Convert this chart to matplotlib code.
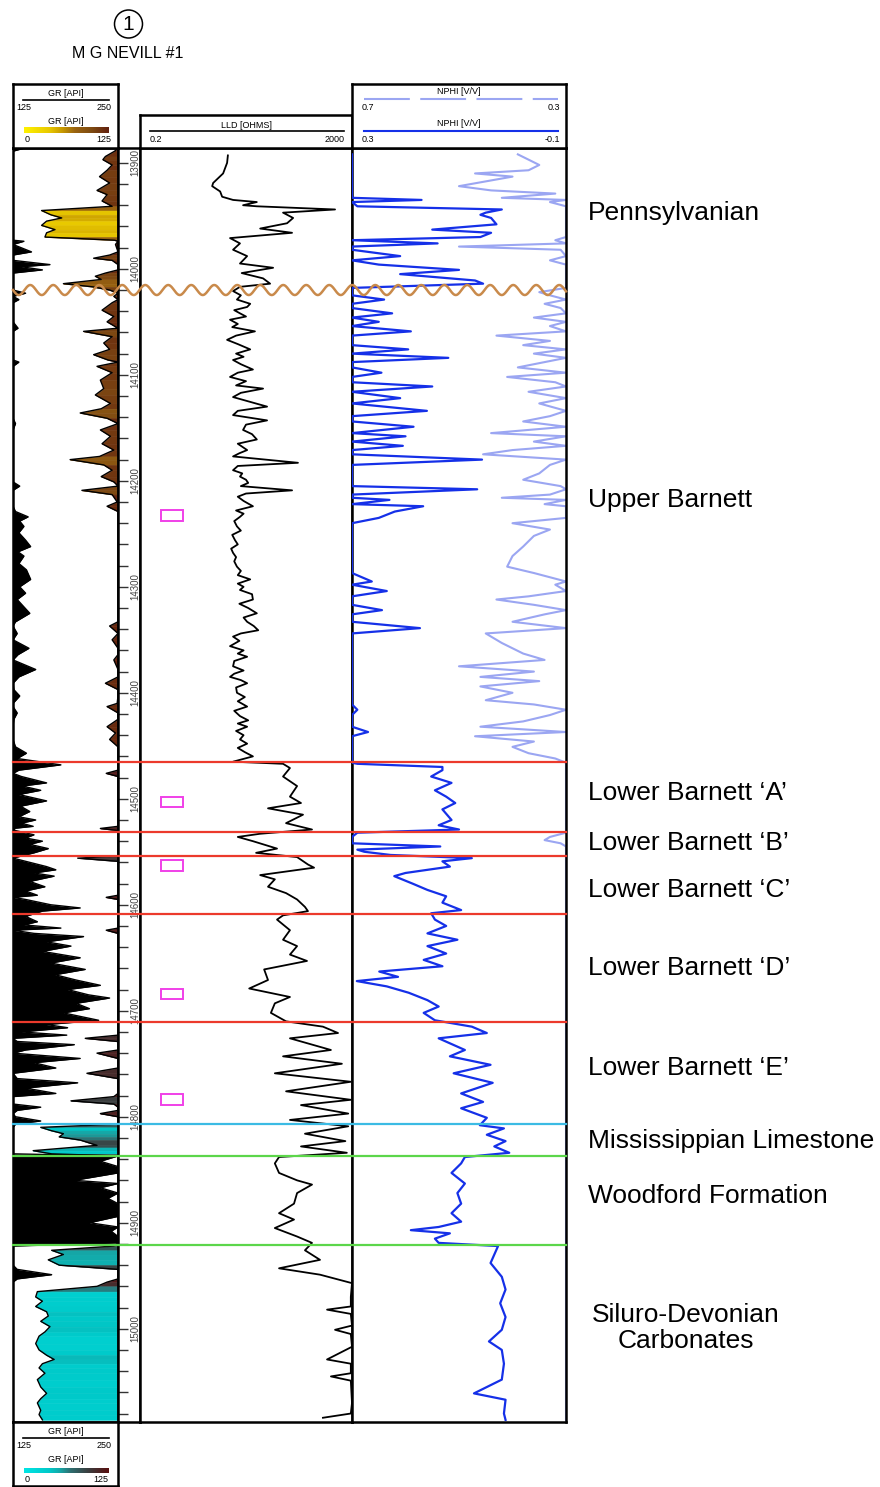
import numpy as np
import matplotlib
matplotlib.use('Agg')
import matplotlib.pyplot as plt
from matplotlib.colors import LinearSegmentedColormap
from matplotlib.patches import Rectangle, Circle
from matplotlib.transforms import blended_transform_factory

plt.rcParams['font.family'] = ['Liberation Sans', 'DejaVu Sans']

well_name = 'M G NEVILL #1'
well_no = '1'

# GR log (ft, API)
gr_depth = [13886, 13889, 13894, 13897, 13902, 13907, 13913, 13919, 13926, 13930,
            13936, 13941, 13945, 13949, 13952, 13955, 13959, 13963, 13966, 13970,
            13973, 13974, 13977, 13984, 13987, 13990, 13992, 13996, 13998, 14001,
            14004, 14007, 14010, 14014, 14017, 14020, 14023, 14026, 14029, 14032,
            14039, 14045, 14050, 14056, 14059, 14064, 14070, 14076, 14081, 14086,
            14088, 14092, 14098, 14105, 14113, 14119, 14127, 14132, 14136, 14141,
            14146, 14152, 14158, 14165, 14171, 14177, 14180, 14185, 14190, 14196,
            14201, 14205, 14209, 14213, 14220, 14224, 14229, 14234, 14238, 14243,
            14249, 14256, 14262, 14267, 14271, 14278, 14284, 14293, 14300, 14306,
            14312, 14319, 14325, 14333, 14337, 14344, 14350, 14358, 14364, 14369,
            14378, 14385, 14391, 14397, 14403, 14410, 14413, 14419, 14425, 14432,
            14438, 14444, 14451, 14457, 14462, 14468, 14473, 14476, 14479, 14485,
            14488, 14492, 14496, 14502, 14507, 14512, 14517, 14520, 14523, 14526,
            14528, 14530, 14534, 14537, 14540, 14543, 14547, 14551, 14554, 14556,
            14559, 14564, 14567, 14570, 14573, 14578, 14583, 14587, 14591, 14593,
            14595, 14600, 14603, 14606, 14611, 14616, 14619, 14622, 14624, 14627,
            14630, 14635, 14639, 14644, 14650, 14655, 14661, 14666, 14671, 14676,
            14680, 14685, 14688, 14693, 14698, 14702, 14709, 14713, 14716, 14720,
            14723, 14726, 14729, 14732, 14737, 14740, 14745, 14749, 14754, 14759,
            14764, 14768, 14773, 14778, 14781, 14785, 14788, 14791, 14794, 14797,
            14800, 14804, 14807, 14810, 14813, 14816, 14819, 14822, 14827, 14829,
            14832, 14835, 14837, 14842, 14847, 14853, 14860, 14863, 14867, 14872,
            14877, 14882, 14894, 14900, 14904, 14908, 14913, 14919, 14922, 14926,
            14930, 14935, 14940, 14944, 14949, 14953, 14956, 14960, 14965, 14970,
            14974, 14979, 14984, 14988, 14993, 14998, 15003, 15007, 15014, 15020,
            15025, 15029, 15033, 15037, 15042, 15048, 15055, 15061, 15066, 15070,
            15077, 15081, 15086]
gr_api = [139, 121, 110, 107, 118, 112, 103, 115, 100, 112,
          106, 118, 34, 45, 58, 40, 34, 50, 40, 38,
          121, 138, 122, 147, 115, 96, 118, 169, 135, 160,
          110, 98, 105, 60, 95, 115, 140, 120, 132, 118,
          106, 120, 112, 131, 84, 118, 108, 115, 96, 113,
          132, 100, 118, 104, 108, 98, 116, 105, 80, 112,
          128, 104, 116, 106, 120, 103, 68, 108, 118, 105,
          120, 133, 82, 118, 124, 112, 128, 143, 133, 138,
          132, 140, 146, 131, 138, 132, 141, 146, 133, 140,
          130, 138, 145, 128, 115, 130, 118, 144, 131, 120,
          152, 132, 110, 126, 133, 124, 112, 130, 126, 112,
          122, 115, 128, 141, 130, 182, 132, 111, 135, 165,
          136, 158, 132, 165, 134, 145, 132, 152, 135, 149,
          104, 128, 150, 140, 160, 145, 167, 150, 135, 77,
          140, 165, 176, 150, 174, 145, 163, 140, 154, 111,
          140, 170, 205, 160, 140, 154, 138, 182, 111, 150,
          209, 165, 194, 160, 205, 170, 211, 175, 200, 229,
          190, 215, 240, 200, 216, 185, 227, 165, 190, 135,
          189, 86, 130, 198, 140, 100, 205, 150, 176, 88,
          130, 202, 140, 176, 120, 69, 120, 158, 130, 104,
          128, 158, 128, 33, 45, 60, 55, 80, 100, 70,
          24, 46, 250, 229, 252, 250, 198, 252, 229, 252,
          238, 255, 255, 216, 252, 242, 255, 255, 120, 46,
          60, 42, 55, 130, 171, 130, 112, 100, 29, 27,
          35, 27, 40, 42, 33, 44, 38, 31, 27, 31,
          40, 49, 35, 31, 38, 29, 33, 40, 33, 29,
          33, 31, 35]

# LLD log (ft, ohm.m)
lld_depth = [13893, 13900, 13910, 13919, 13922, 13927, 13932, 13935, 13937, 13940,
             13941, 13944, 13947, 13952, 13957, 13962, 13966, 13971, 13976, 13982,
             13988, 13995, 13999, 14004, 14009, 14014, 14017, 14021, 14025, 14029,
             14033, 14036, 14039, 14042, 14045, 14048, 14052, 14055, 14059, 14063,
             14067, 14071, 14076, 14080, 14083, 14086, 14090, 14095, 14098, 14102,
             14106, 14110, 14113, 14117, 14121, 14125, 14130, 14134, 14138, 14143,
             14147, 14152, 14156, 14161, 14165, 14171, 14174, 14177, 14183, 14186,
             14190, 14193, 14196, 14199, 14202, 14205, 14209, 14212, 14215, 14219,
             14224, 14228, 14231, 14234, 14238, 14243, 14247, 14251, 14256, 14260,
             14264, 14268, 14272, 14276, 14281, 14285, 14289, 14293, 14297, 14300,
             14303, 14307, 14312, 14316, 14320, 14325, 14329, 14333, 14337, 14341,
             14344, 14347, 14351, 14356, 14360, 14363, 14366, 14370, 14375, 14379,
             14382, 14385, 14388, 14391, 14395, 14400, 14404, 14408, 14413, 14417,
             14422, 14426, 14429, 14432, 14436, 14440, 14444, 14448, 14452, 14456,
             14460, 14465, 14467, 14471, 14479, 14488, 14498, 14504, 14509, 14515,
             14523, 14529, 14533, 14536, 14540, 14547, 14551, 14555, 14562, 14565,
             14572, 14576, 14583, 14589, 14595, 14602, 14606, 14610, 14614, 14624,
             14633, 14639, 14647, 14653, 14661, 14671, 14679, 14687, 14693, 14702,
             14710, 14715, 14721, 14726, 14737, 14743, 14750, 14759, 14767, 14776,
             14784, 14789, 14797, 14803, 14809, 14816, 14823, 14828, 14834, 14838,
             14844, 14853, 14860, 14864, 14872, 14882, 14891, 14897, 14905, 14913,
             14919, 14926, 14935, 14943, 14949, 14957, 14970, 14979, 14982, 14986,
             14997, 15001, 15005, 15017, 15029, 15033, 15042, 15045, 15049, 15070,
             15080, 15084]
lld_ohm = [9.1, 8.8, 7.4, 4.8, 4.6, 6.5, 7.1, 11.4, 32, 17.6,
           32, 957, 100, 155, 119, 37, 148, 10, 15.4, 11.4,
           21, 15.4, 65, 16.6, 42, 57, 15.4, 11.4, 16, 13.5,
           24, 21, 12, 15.4, 20, 10, 14, 11, 29.5, 13,
           8.8, 14, 24, 13, 18, 11.4, 16, 27, 14, 10,
           20, 13, 42, 16, 11.4, 22, 50, 14, 11.4, 50,
           20, 17.6, 26, 32, 14, 21, 15, 11.4, 191, 14,
           11.4, 17, 15.4, 20, 22, 16, 148, 20, 14, 18,
           27, 13, 18, 15.4, 12, 13.5, 16, 11, 12.4, 14,
           10.5, 11.4, 13, 12, 13.5, 16, 14, 24, 14, 18,
           15.4, 26, 27, 15, 22, 32, 18, 21, 28, 34,
           16, 11.4, 15, 10, 18, 14, 21, 12, 11.4, 18,
           12, 10, 16, 21, 13, 13.5, 19, 14, 21, 12,
           15.4, 22, 14, 21, 13, 18, 15.4, 21, 14, 19,
           27, 11.4, 100, 135, 100, 184, 135, 218, 52, 238,
           114, 352, 37, 14, 27, 77, 31, 184, 295, 385,
           37, 70, 52, 114, 184, 259, 295, 100, 77, 135,
           100, 184, 135, 283, 44, 52, 23, 135, 70, 59,
           114, 566, 1090, 135, 800, 100, 1290, 70, 1900, 114,
           1900, 218, 1700, 135, 1700, 259, 1500, 218, 1600, 84,
           70, 84, 184, 352, 184, 161, 84, 161, 70, 184,
           352, 259, 498, 84, 498, 2000, 1900, 1900, 676, 1900,
           2000, 957, 1900, 2000, 676, 1900, 1900, 800, 1900, 2000,
           1900, 566]

# NPHI log (ft, v/v)
nphi_depth = [13892, 13897, 13902, 13907, 13910, 13913, 13918, 13922, 13926, 13929,
              13933, 13935, 13937, 13941, 13944, 13947, 13949, 13952, 13958, 13963,
              13966, 13970, 13973, 13976, 13979, 13982, 13988, 13992, 13996, 14001,
              14005, 14011, 14014, 14018, 14022, 14025, 14029, 14033, 14037, 14042,
              14046, 14050, 14054, 14059, 14063, 14068, 14072, 14076, 14080, 14084,
              14088, 14093, 14098, 14102, 14107, 14111, 14116, 14122, 14127, 14134,
              14139, 14144, 14149, 14155, 14158, 14163, 14167, 14171, 14175, 14180,
              14185, 14193, 14199, 14205, 14208, 14213, 14216, 14218, 14222, 14224,
              14229, 14235, 14240, 14246, 14252, 14262, 14271, 14281, 14287, 14295,
              14298, 14304, 14309, 14312, 14317, 14322, 14326, 14333, 14339, 14344,
              14353, 14363, 14369, 14375, 14380, 14385, 14389, 14394, 14400, 14407,
              14411, 14416, 14421, 14427, 14432, 14437, 14441, 14446, 14451, 14457,
              14462, 14466, 14467, 14470, 14473, 14479, 14485, 14492, 14498, 14504,
              14510, 14520, 14525, 14529, 14532, 14536, 14539, 14542, 14545, 14548,
              14550, 14553, 14556, 14559, 14564, 14570, 14573, 14580, 14586, 14592,
              14598, 14605, 14608, 14614, 14620, 14627, 14633, 14639, 14646, 14652,
              14658, 14663, 14668, 14672, 14677, 14683, 14690, 14696, 14702, 14709,
              14715, 14721, 14726, 14737, 14743, 14751, 14759, 14768, 14778, 14786,
              14792, 14801, 14808, 14811, 14817, 14823, 14828, 14834, 14838, 14844,
              14853, 14863, 14872, 14882, 14891, 14899, 14904, 14907, 14910, 14915,
              14919, 14922, 14938, 14951, 14963, 14976, 14989, 15001, 15012, 15020,
              15033, 15048, 15061, 15067, 15080, 15086]
nphi_vv = [0.39, 0.37, 0.35, 0.37, 0.47, 0.40, 0.455, 0.50, 0.44, 0.32,
           0.42, 0.17, 0.33, 0.29, 0.02, 0.05, 0.06, 0.04, 0.03, 0.15,
           0.04, 0.06, 0.32, 0.14, 0.50, 0.31, 0.21, 0.33, 0.25, 0.10,
           0.21, 0.07, 0.055, 0.30, 0.35, 0.33, 0.24, 0.34, 0.31, 0.225,
           0.36, 0.25, 0.33, 0.19, 0.43, 0.33, 0.38, 0.195, 0.36, 0.12,
           0.34, 0.39, 0.245, 0.41, 0.32, 0.15, 0.37, 0.21, 0.35, 0.16,
           0.33, 0.38, 0.185, 0.44, 0.20, 0.36, 0.205, 0.40, 0.455, 0.057,
           0.33, 0.35, 0.38, 0.31, 0.066, 0.33, 0.42, 0.23, 0.34, 0.167,
           0.22, 0.25, 0.40, 0.33, 0.36, 0.38, 0.40, 0.41, 0.36, 0.263,
           0.32, 0.235, 0.37, 0.43, 0.36, 0.244, 0.34, 0.40, 0.173, 0.45,
           0.42, 0.38, 0.34, 0.50, 0.36, 0.46, 0.35, 0.46, 0.40, 0.45,
           0.36, 0.29, 0.33, 0.38, 0.46, 0.27, 0.47, 0.36, 0.40, 0.37,
           0.32, 0.30, 0.29, 0.131, 0.131, 0.152, 0.114, 0.145, 0.124, 0.107,
           0.131, 0.114, 0.138, 0.10, 0.29, 0.33, 0.34, 0.31, 0.135, 0.29,
           0.277, 0.228, 0.076, 0.131, 0.117, 0.20, 0.221, 0.187, 0.159, 0.124,
           0.131, 0.096, 0.152, 0.145, 0.124, 0.159, 0.103, 0.159, 0.124, 0.166,
           0.131, 0.249, 0.214, 0.291, 0.235, 0.194, 0.159, 0.138, 0.166, 0.145,
           0.076, 0.048, 0.138, 0.089, 0.117, 0.041, 0.110, 0.037, 0.096, 0.055,
           0.096, 0.048, 0.061, 0.016, 0.048, 0.013, 0.034, 0.006, 0.089, 0.096,
           0.114, 0.089, 0.103, 0.096, 0.114, 0.096, 0.138, 0.19, 0.117, 0.145,
           0.138, 0.027, 0.041, 0.02, 0.013, 0.023, 0.013, 0.02, 0.044, 0.02,
           0.016, 0.02, 0.072, 0.013, 0.016, 0.013]

assert len(gr_depth) == len(gr_api)
assert len(lld_depth) == len(lld_ohm)
assert len(nphi_depth) == len(nphi_vv)

# formation tops (ft)
tops_depth = [14465, 14531, 14554, 14609, 14711, 14807, 14837, 14921]
tops_color = ['#ec3a2c'] * 5 + ['#3bbbe4', '#5cd64a', '#5cd64a']
unconformity_depth = 14020
core_depth = [14233, 14503, 14563, 14684, 14784]

zone_names = ['Pennsylvanian', 'Upper Barnett', 'Lower Barnett \u2018A\u2019',
              'Lower Barnett \u2018B\u2019', 'Lower Barnett \u2018C\u2019',
              'Lower Barnett \u2018D\u2019', 'Lower Barnett \u2018E\u2019',
              'Mississippian Limestone', 'Woodford Formation',
              'Siluro-Devonian\nCarbonates']
zone_label_y = [213, 500, 793, 843, 890, 968, 1068, 1141, 1196, 1328]

D_TOP, D_BOT = 13886, 15088
W, H = 880, 1487
Y_TOP, Y_BOT = 148, 1422

cmap_top = LinearSegmentedColormap.from_list('gr_top', [
    (0, '#fff200'), (0.3, '#e8c800'), (0.45, '#c89a00'),
    (0.6, '#9a6410'), (0.8, '#7e4a12'), (1, '#62200e')])
cmap_bot = LinearSegmentedColormap.from_list('gr_bot', [
    (0, '#00e5e5'), (0.3, '#00c8c8'), (0.42, '#14a8a8'),
    (0.55, '#2e6e70'), (0.75, '#3a3f40'), (1, '#5a0f0f')])


def box(x0, y0, x1, y1):
    return [x0 / W, 1 - y1 / H, (x1 - x0) / W, (y1 - y0) / H]


def depth_px(d):
    return Y_TOP + (d - D_TOP) / (D_BOT - D_TOP) * (Y_BOT - Y_TOP)


def clean(ax, lw=1.8):
    ax.tick_params(which='both', bottom=False, left=False, top=False, right=False,
                   labelbottom=False, labelleft=False)
    for s in ax.spines.values():
        s.set_linewidth(lw)


fig = plt.figure(figsize=(W / 100, H / 100), dpi=100)

# ---- tracks
ax_gr = fig.add_axes(box(13, Y_TOP, 118, Y_BOT))
ax_dep = fig.add_axes(box(118, Y_TOP, 140, Y_BOT))
ax_lld = fig.add_axes(box(140, Y_TOP, 352, Y_BOT))
ax_nphi = fig.add_axes(box(352, Y_TOP, 566, Y_BOT))
for ax in (ax_gr, ax_dep, ax_lld, ax_nphi):
    ax.set_ylim(D_BOT, D_TOP)
    clean(ax)

# GR: colour fill 0-125 from right, black fill 125-250 from left
gd = np.array(gr_depth, float)
gr = np.array(gr_api, float)
g_lo = np.clip(gr, 0, 125)
g_hi = np.clip(gr - 125, 0, 125)
ax_gr.set_xlim(0, 125)
for i in range(len(gd) - 1):
    cm = cmap_top if gd[i] < tops_depth[0] else cmap_bot
    c = cm((g_lo[i] + g_lo[i + 1]) / 250)
    ax_gr.fill_betweenx(gd[i:i + 2], g_lo[i:i + 2], 125, color=c, lw=0.4, ec=c)
ax_gr.fill_betweenx(gd, 0, g_hi, color='black', lw=0)
ax_gr.plot(g_lo, gd, color='black', lw=1.0)
ax_gr.plot(g_hi, gd, color='black', lw=1.0)

# depth track
ax_dep.set_xlim(0, 1)
ax_dep.set_yticks(np.arange(13900, 15081, 20))
ax_dep.tick_params(axis='y', which='major', left=True, direction='in', length=7,
                   width=1.0, color='#333333')
bt = blended_transform_factory(ax_dep.transAxes, ax_dep.transData)
for d in range(13900, 15001, 100):
    ax_dep.text(0.8, d, str(d), rotation=90, ha='center', va='center',
                fontsize=7, color='#444444', transform=bt)

# LLD
ax_lld.set_xscale('log')
ax_lld.set_xlim(0.2, 2000)
clean(ax_lld)
ax_lld.plot(lld_ohm, lld_depth, color='black', lw=1.3)
bl = blended_transform_factory(ax_lld.transAxes, ax_lld.transData)
for d in core_depth:
    ax_lld.add_patch(Rectangle((0.1, d - 5), 0.103, 10, transform=bl, fill=False,
                               ec='#f040e8', lw=1.4))

# NPHI (wrapped scale)
nv = np.array(nphi_vv)
ax_nphi.set_xlim(0.3, -0.1)
ax_nphi.plot(np.clip(nv, 0.3, 0.7) - 0.4, nphi_depth, color='#9ba6f2', lw=1.5,
             zorder=2)
ax_nphi.plot(np.clip(nv, -0.1, 0.3), nphi_depth, color='#1530e8', lw=1.6, zorder=3)

# ---- headers
def header(x0, y0, x1, y1):
    hd = fig.add_axes(box(x0, y0, x1, y1))
    hd.set_xlim(x0, x1)
    hd.set_ylim(y1, y0)
    clean(hd)
    return hd


fs = 6.5
grad = np.linspace(0, 1, 256).reshape(1, -1)


def gr_legend(hd, yb):
    hd.text(65.5, yb + 10, 'GR [API]', ha='center', va='center', fontsize=fs)
    hd.plot([23, 109], [yb + 16, yb + 16], color='black', lw=1.2)
    hd.text(16, yb + 24, '125', ha='left', va='center', fontsize=fs)
    hd.text(112, yb + 24, '250', ha='right', va='center', fontsize=fs)
    hd.text(65.5, yb + 37, 'GR [API]', ha='center', va='center', fontsize=fs)


hd1 = header(13, 84, 118, 148)
gr_legend(hd1, 84)
hd1.imshow(grad, cmap=cmap_top, aspect='auto', extent=(24, 108, 133, 127))
hd1.text(27, 140, '0', ha='center', va='center', fontsize=fs)
hd1.text(111, 140, '125', ha='right', va='center', fontsize=fs)
hd1.set_xlim(13, 118)
hd1.set_ylim(148, 84)

hd2 = header(140, 115, 352, 148)
hd2.text(246, 125, 'LLD [OHMS]', ha='center', va='center', fontsize=fs)
hd2.plot([150, 344], [131, 131], color='black', lw=1.2)
hd2.text(150, 139.5, '0.2', ha='left', va='center', fontsize=fs)
hd2.text(345, 139.5, '2000', ha='right', va='center', fontsize=fs)

hd3 = header(352, 84, 566, 148)
hd3.text(459, 92, 'NPHI [V/V]', ha='center', va='center', fontsize=fs)
hd3.plot([364, 558], [99, 99], color='#9ba6f2', lw=1.5, ls=(0, (22, 5)))
hd3.text(362, 108, '0.7', ha='left', va='center', fontsize=fs)
hd3.text(560, 108, '0.3', ha='right', va='center', fontsize=fs)
hd3.text(459, 124, 'NPHI [V/V]', ha='center', va='center', fontsize=fs)
hd3.plot([364, 558], [131, 131], color='#1530e8', lw=1.5)
hd3.text(362, 139.5, '0.3', ha='left', va='center', fontsize=fs)
hd3.text(560, 139.5, '-0.1', ha='right', va='center', fontsize=fs)

hd4 = header(13, 1422, 118, 1486)
gr_legend(hd4, 1422)
hd4.imshow(grad, cmap=cmap_bot, aspect='auto', extent=(24, 108, 1473, 1468))
hd4.text(27, 1480, '0', ha='center', va='center', fontsize=fs)
hd4.text(108, 1480, '125', ha='right', va='center', fontsize=fs)
hd4.set_xlim(13, 118)
hd4.set_ylim(1486, 1422)

# ---- overlay: title, tops, unconformity, zone labels
ov = fig.add_axes([0, 0, 1, 1], zorder=10)
ov.set_xlim(0, W)
ov.set_ylim(H, 0)
ov.axis('off')
ov.patch.set_alpha(0)

ov.add_patch(Circle((128.5, 24), 14, fill=False, ec='black', lw=1.1))
ov.text(128.5, 25, well_no, ha='center', va='center', fontsize=15)
ov.text(128, 54, well_name, ha='center', va='center', fontsize=11.5)

for d, c in zip(tops_depth, tops_color):
    y = depth_px(d)
    ov.plot([13, 566], [y, y], color=c, lw=1.6)

xw = np.linspace(13, 566, 800)
yw = depth_px(unconformity_depth) + 5 * np.sin(2 * np.pi * (xw - 13) / 23)
ov.plot(xw, yw, color='#c98a4b', lw=1.8)

for name, y in zip(zone_names, zone_label_y):
    if '\n' in name:
        ov.text(686, y, name, ha='center', va='center', fontsize=19,
                multialignment='center', linespacing=1.1)
    else:
        ov.text(588, y, name, ha='left', va='center', fontsize=19)

fig.savefig('out.png', dpi=100)
